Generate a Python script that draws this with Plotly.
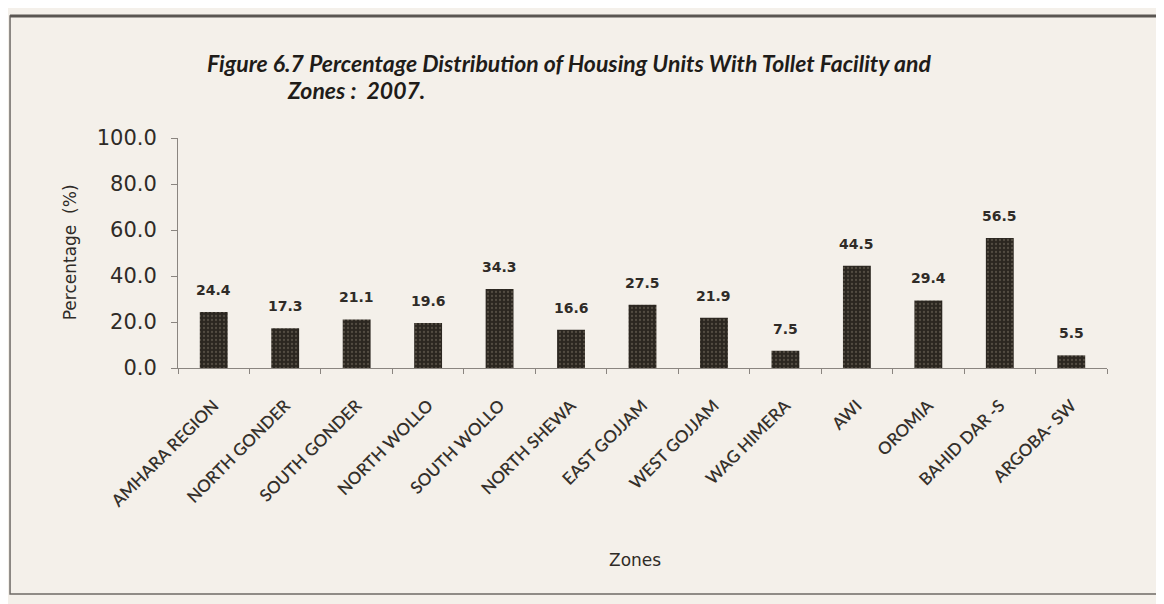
import plotly.graph_objects as go

# Zonas y porcentajes de viviendas con servicio sanitario (2007)
zones = ["AMHARA REGION", "NORTH GONDER", "SOUTH GONDER", "NORTH WOLLO",
         "SOUTH WOLLO", "NORTH SHEWA", "EAST GOJJAM", "WEST GOJJAM",
         "WAG HIMERA", "AWI", "OROMIA", "BAHID DAR -S", "ARGOBA- SW"]
percent = [24.4, 17.3, 21.1, 19.6, 34.3, 16.6, 27.5, 21.9, 7.5, 44.5, 29.4, 56.5, 5.5]
y_ticks = [0, 20, 40, 60, 80, 100]

bg = "#f4f0ea"
ink = "#2f2b27"

fig = go.Figure()
fig.add_trace(go.Bar(
    x=zones, y=percent, width=0.39,
    marker=dict(color="#2b2620", line=dict(width=0),
                pattern=dict(shape=".", fgcolor="#7a7163", bgcolor="#2b2620",
                             size=4, solidity=0.25)),
))

# etiquetas de valor encima de las barras
for z, v in zip(zones, percent):
    fig.add_annotation(x=z, y=v, text=f"<b>{v:.1f}</b>", showarrow=False,
                       yanchor="bottom", yshift=12,
                       font=dict(family="DejaVu Sans", size=14, color=ink))

fig.update_layout(
    width=1164, height=604,
    margin=dict(l=170, r=65, t=130, b=244),
    paper_bgcolor=bg, plot_bgcolor=bg,
    showlegend=False,
    font=dict(family="DejaVu Sans", color=ink),
)

fig.update_yaxes(
    range=[0, 100], tickvals=y_ticks, tickformat=".1f",
    showgrid=False, zeroline=False,
    showline=True, linecolor="#8a8580", linewidth=1,
    ticks="outside", ticklen=6, tickcolor="#8a8580",
    ticklabelstandoff=10,
    tickfont=dict(size=21, color=ink),
)
fig.update_xaxes(
    tickangle=-45, tickson="boundaries",
    showline=True, linecolor="#8a8580", linewidth=1,
    ticks="outside", ticklen=5, tickcolor="#8a8580",
    ticklabelstandoff=20,
    tickfont=dict(family="Lato", size=17, color="#35302b", weight=600),
    showgrid=False,
)

# marco del gráfico
fig.add_shape(type="rect", xref="paper", yref="paper",
              x0=-0.1808, x1=1.073, y0=-0.983, y1=1.53,
              line=dict(color="#6e6a66", width=1.5), layer="below")
fig.add_shape(type="line", xref="paper", yref="paper",
              x0=-0.1808, x1=1.08, y0=1.53, y1=1.53,
              line=dict(color="#5a5652", width=3))

title_font = dict(family="Lato", size=23, color="#1f1c19")
fig.add_annotation(text="<b><i>Figure 6.7 Percentage Distribution of Housing Units With Tollet Facility and</i></b>",
                   xref="paper", yref="paper", x=0.029, y=1.328,
                   xanchor="left", yanchor="middle", showarrow=False, font=title_font)
fig.add_annotation(text="<b><i>Zones :  2007.</i></b>",
                   xref="paper", yref="paper", x=0.115, y=1.207,
                   xanchor="left", yanchor="middle", showarrow=False, font=title_font)
fig.add_annotation(text="Percentage  (%)", xref="paper", yref="paper",
                   x=-0.116, y=0.504, textangle=-90, showarrow=False,
                   xanchor="center", yanchor="middle",
                   font=dict(size=17, color=ink))
fig.add_annotation(text="Zones", xref="paper", yref="paper", x=0.492, y=-0.835,
                   xanchor="center", yanchor="middle", showarrow=False,
                   font=dict(size=17, color=ink))

fig.write_html("out.html")
